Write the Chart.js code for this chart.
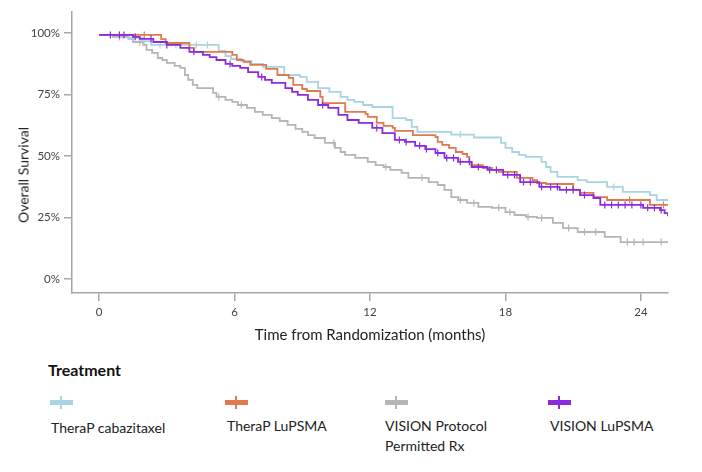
<!DOCTYPE html>
<html>
<head>
<meta charset="utf-8">
<script src="https://cdn.jsdelivr.net/npm/chart.js@4.4.1/dist/chart.umd.min.js"></script>
<style>
  html, body { margin:0; padding:0; background:#fff; }
  body { width:702px; height:472px; overflow:hidden; position:relative; font-family:'Lato', 'Open Sans', sans-serif; }
  #c { position:absolute; left:0; top:0; }
  #ytitle { position:absolute; left:23px; top:175px; transform:translate(-50%,-50%) rotate(-90deg); white-space:nowrap; font-size:14px; color:#222; }
  #legtitle { position:absolute; left:48px; top:360px; font-size:16px; font-weight:bold; color:#111; }
  .mk { position:absolute; top:400px; width:23px; height:5px; }
  .mk i { position:absolute; left:10px; top:-4px; width:2px; height:13px; }
  .lb { position:absolute; font-size:14px; color:#222; line-height:20px; }
</style>
</head>
<body>
<canvas id="c" width="702" height="350"></canvas>
<div id="ytitle">Overall Survival</div>
<div id="legtitle">Treatment</div>
<div id="legend"></div>
<script>
// ---- Data ----
const seriesNames = ['TheraP cabazitaxel', 'TheraP LuPSMA', 'VISION Protocol Permitted Rx', 'VISION LuPSMA'];
const xTicks = [0, 6, 12, 18, 24];
const yTicks = [0, 25, 50, 75, 100];

// TheraP cabazitaxel: step times (months) and survival (%)
const cabTime = [0, 1.3, 1.9, 2.3, 5.3, 5.6, 5.85, 6.3, 6.75, 7.25, 8.2, 8.9, 9.2, 9.7, 10.2, 10.7, 11.0, 11.3, 11.7, 12.1, 13.0, 13.6, 13.85, 14.1, 15.6, 16.6, 17.8, 18.0, 18.3, 18.6, 18.9, 19.6, 19.8, 20.0, 20.3, 21.2, 21.6, 22.5, 23.2, 24.4, 24.7, 25.2];
const cabSurv = [99.2, 98.0, 96.7, 95.1, 92.7, 90.6, 89.4, 88.6, 87.4, 86.2, 82.9, 82.1, 80.1, 77.6, 76.0, 74.0, 72.8, 72.0, 70.7, 69.9, 65.4, 64.6, 61.8, 59.8, 58.7, 57.5, 55.3, 53.3, 51.6, 50.4, 49.6, 47.6, 45.5, 43.5, 41.5, 40.2, 39.4, 37.4, 35.4, 34.1, 32.1, 32.1];
const cabCensor = [2.0, 2.7, 3.4, 4.3, 4.8, 16.0, 22.8];

// TheraP LuPSMA
const luTime = [0, 2.75, 2.95, 4.0, 4.2, 5.9, 6.1, 6.4, 6.7, 7.4, 7.9, 8.4, 8.6, 9.0, 9.2, 9.8, 9.9, 10.9, 11.8, 11.9, 12.3, 12.6, 13.0, 13.1, 13.9, 14.9, 15.0, 15.2, 15.5, 15.8, 16.1, 16.3, 16.4, 16.5, 17.0, 17.4, 17.7, 18.5, 19.2, 19.4, 19.8, 21.0, 21.3, 21.9, 22.5, 24.4, 25.2];
const luSurv = [99.2, 97.5, 95.9, 93.9, 92.3, 91.1, 89.0, 88.2, 87.0, 85.4, 82.9, 81.7, 78.9, 77.2, 76.4, 74.0, 71.5, 67.9, 67.1, 65.9, 63.4, 62.2, 61.4, 60.2, 58.5, 57.7, 55.7, 54.5, 53.3, 51.6, 50.8, 49.6, 47.6, 46.3, 45.1, 44.3, 43.5, 41.1, 40.2, 39.0, 38.6, 36.2, 35.0, 33.3, 32.1, 30.1, 30.1];
const luCensor = [2.0, 23.5, 25.0];

// VISION Protocol Permitted Rx
const socTime = [0, 0.6, 1.3, 1.5, 1.95, 2.1, 2.35, 2.6, 2.8, 3.0, 3.35, 3.6, 3.8, 3.95, 4.15, 4.35, 5.05, 5.2, 5.6, 5.9, 6.15, 6.55, 6.9, 7.25, 7.65, 8.0, 8.35, 8.7, 9.0, 9.25, 9.55, 10.0, 10.45, 10.7, 10.9, 11.35, 11.9, 12.25, 12.6, 12.9, 13.4, 13.7, 14.6, 15.0, 15.3, 15.6, 15.9, 16.3, 16.8, 17.4, 18.0, 18.4, 18.9, 19.4, 20.1, 20.55, 21.2, 22.4, 23.1, 25.2];
const socSurv = [99.2, 98.4, 97.6, 96.3, 95.1, 93.1, 91.9, 89.8, 89.0, 87.8, 86.6, 85.8, 82.9, 80.9, 78.9, 77.6, 75.6, 74.0, 72.8, 72.0, 70.7, 69.5, 67.9, 66.7, 65.4, 64.2, 62.6, 61.0, 59.8, 58.5, 57.3, 55.3, 53.3, 51.6, 50.4, 49.2, 47.6, 46.3, 45.5, 44.3, 43.1, 41.1, 39.4, 38.2, 36.2, 33.3, 32.1, 30.9, 29.3, 28.9, 27.2, 26.0, 25.2, 24.8, 22.8, 20.7, 19.1, 17.1, 15.0, 15.0];
const socCensor = [0.9, 1.8, 5.3, 6.3, 10.4, 12.7, 14.3, 16.0, 16.6, 17.7, 18.2, 19.0, 19.6, 20.8, 21.5, 22.0, 23.4, 23.7, 24.1, 24.9];

// VISION LuPSMA
const visTime = [0, 1.5, 1.8, 2.4, 3.0, 3.6, 4.0, 4.6, 4.9, 5.2, 5.6, 5.9, 6.25, 6.6, 7.05, 7.35, 7.65, 8.25, 8.55, 8.8, 9.25, 9.7, 10.15, 10.6, 11.0, 11.5, 12.1, 12.55, 13.1, 13.55, 14.0, 14.45, 14.9, 15.3, 15.9, 16.5, 17.2, 17.9, 18.65, 19.5, 20.4, 21.3, 21.9, 22.2, 24.1, 24.85, 25.05, 25.2];
const visSurv = [99.2, 98.4, 97.6, 96.3, 95.1, 93.9, 92.3, 91.1, 90.2, 89.0, 87.4, 86.6, 85.8, 84.1, 82.1, 80.9, 79.7, 77.6, 76.0, 74.8, 72.8, 70.7, 69.5, 66.7, 64.6, 63.4, 61.4, 59.3, 56.5, 55.7, 54.1, 52.8, 51.2, 49.2, 47.6, 45.5, 44.3, 42.3, 39.4, 37.4, 36.2, 34.1, 32.9, 30.1, 28.9, 28.0, 26.8, 25.5];
const visCensor = [0.5, 0.9, 1.1, 1.6, 2.3, 3.0, 4.2, 5.8, 7.2, 9.9, 12.3, 13.3, 13.6, 14.2, 14.5, 15.0, 15.4, 15.7, 16.0, 16.4, 16.8, 17.3, 17.6, 18.1, 18.4, 18.8, 19.1, 19.6, 20.0, 20.3, 20.7, 21.0, 21.5, 22.4, 22.7, 23.0, 23.3, 23.6, 24.0, 24.3, 24.6, 24.9];

const seriesColors = ['#a8d3e1', '#e0794f', '#b5b5b5', '#8a2be2'];

// ---- Build datasets ----
function survAt(times, surv, t) {
  let s = surv[0];
  for (let i = 0; i < times.length; i++) { if (times[i] <= t) s = surv[i]; }
  return s;
}
const series = [
  {name: seriesNames[0], t: cabTime, s: cabSurv, c: cabCensor, color: seriesColors[0], order: 2},
  {name: seriesNames[1], t: luTime,  s: luSurv,  c: luCensor,  color: seriesColors[1], order: 1},
  {name: seriesNames[2], t: socTime, s: socSurv, c: socCensor, color: seriesColors[2], order: 3},
  {name: seriesNames[3], t: visTime, s: visSurv, c: visCensor, color: seriesColors[3], order: 0}
];
const datasets = [];
series.forEach(sr => {
  datasets.push({
    label: sr.name,
    data: sr.t.map((t, i) => ({x: t, y: sr.s[i]})),
    borderColor: sr.color, backgroundColor: sr.color,
    borderWidth: 1.8, stepped: true, pointRadius: 0, fill: false, order: sr.order
  });
  datasets.push({
    label: sr.name + ' censored',
    data: sr.c.map(t => ({x: t, y: survAt(sr.t, sr.s, t)})),
    showLine: false, pointStyle: 'line', rotation: 90, pointRadius: 3.5,
    borderColor: sr.color, backgroundColor: sr.color, pointBorderWidth: 1.2, order: sr.order
  });
});

const axisColor = '#a6a6a6';
new Chart(document.getElementById('c'), {
  type: 'line',
  data: { datasets },
  options: {
    responsive: false, animation: false,
    layout: { padding: { left: 0, top: 12, right: 34, bottom: 0 } },
    plugins: { legend: { display: false }, tooltip: { enabled: false } },
    scales: {
      x: {
        type: 'linear', min: -1.2, max: 25.2,
        afterBuildTicks: s => { s.ticks = xTicks.map(v => ({value: v})); },
        afterFit: s => { s.height = 57; },
        grid: { drawOnChartArea: false, drawTicks: true, tickLength: 8, color: axisColor, lineWidth: 1.5 },
        border: { color: axisColor, width: 1.5 },
        ticks: { color: '#444', font: { family: 'Lato', size: 11.5 }, padding: 4, maxRotation: 0 },
        title: { display: true, text: 'Time from Randomization (months)', color: '#222', font: { family: 'Lato', size: 15 }, padding: { top: 0, bottom: 6 } }
      },
      y: {
        type: 'linear', min: -5.7, max: 108.5,
        afterBuildTicks: s => { s.ticks = yTicks.map(v => ({value: v})); },
        afterFit: s => { s.width = 72; },
        grid: { drawOnChartArea: false, drawTicks: true, tickLength: 8, color: axisColor, lineWidth: 1.5 },
        border: { color: axisColor, width: 1.5 },
        ticks: { color: '#444', font: { family: 'Lato', size: 11.5 }, padding: 4, callback: v => v + '%' }
      }
    }
  }
});

// ---- HTML legend built from the series ----
const legend = document.getElementById('legend');
const mkLeft = [50, 225, 385, 548];
const lbLeft = [51, 227, 385, 550];
const lbTop = [418, 416, 416, 416];
series.forEach((sr, i) => {
  const mk = document.createElement('div');
  mk.className = 'mk';
  mk.style.left = mkLeft[i] + 'px';
  mk.style.background = sr.color;
  const tick = document.createElement('i');
  tick.style.background = sr.color;
  mk.appendChild(tick);
  legend.appendChild(mk);
  const lb = document.createElement('div');
  lb.className = 'lb';
  lb.style.left = lbLeft[i] + 'px';
  lb.style.top = lbTop[i] + 'px';
  lb.innerHTML = i === 2 ? 'VISION Protocol<br>Permitted Rx' : sr.name;
  legend.appendChild(lb);
});
</script>
</body>
</html>
